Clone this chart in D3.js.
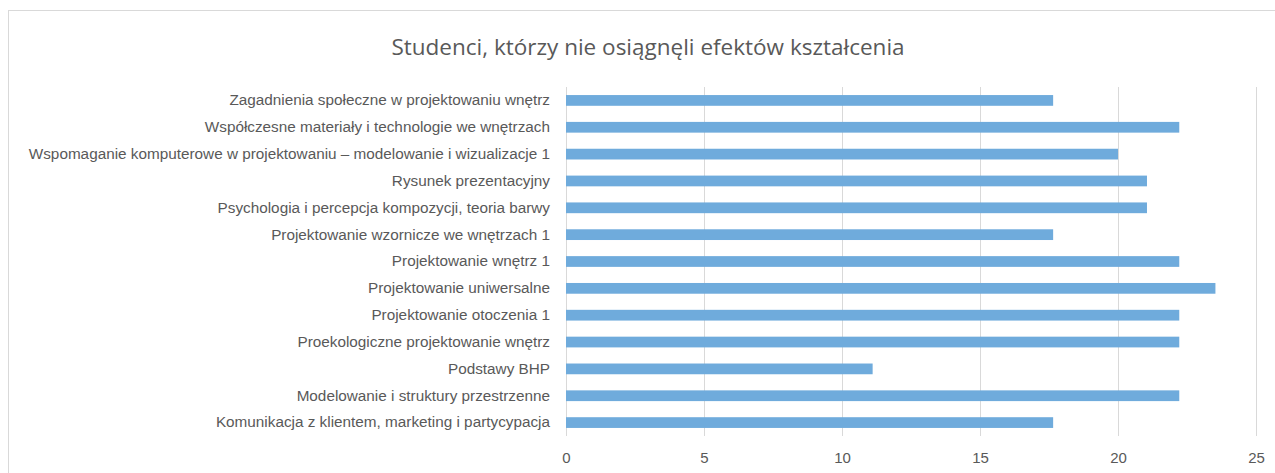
<!DOCTYPE html>
<html>
<head>
<meta charset="UTF-8">
<script src="https://cdn.jsdelivr.net/npm/d3@7"></script>
<style>
    body { margin: 0; background: white; }
    svg { display: block; font-family: "Open Sans", sans-serif; }
</style>
</head>
<body>
<div id="chart"></div>
<script>
    const title = "Studenci, którzy nie osiągnęli efektów kształcenia";

    // top to bottom, as in the picture
    const categories = [
        "Zagadnienia społeczne w projektowaniu wnętrz",
        "Współczesne materiały i technologie we wnętrzach",
        "Wspomaganie komputerowe w projektowaniu – modelowanie i wizualizacje 1",
        "Rysunek prezentacyjny",
        "Psychologia i percepcja kompozycji, teoria barwy",
        "Projektowanie wzornicze we wnętrzach 1",
        "Projektowanie wnętrz 1",
        "Projektowanie uniwersalne",
        "Projektowanie otoczenia 1",
        "Proekologiczne projektowanie wnętrz",
        "Podstawy BHP",
        "Modelowanie i struktury przestrzenne",
        "Komunikacja z klientem, marketing i partycypacja"
    ];
    const values = [17.65, 22.22, 20.00, 21.05, 21.05, 17.65, 22.22, 23.53, 22.22, 22.22, 11.11, 22.22, 17.65];
    const xTicks = [0, 5, 10, 15, 20, 25];

    const w = 1275, h = 473;
    const plotLeft = 566, plotRight = 1256, plotTop = 87, plotBottom = 436;
    const textColor = '#595959';

    const svg = d3.select('#chart').append('svg')
        .attr('width', w)
        .attr('height', h);

    // chart frame
    svg.append('rect')
        .attr('x', 8.5).attr('y', 10.5)
        .attr('width', 1300).attr('height', 500)
        .attr('fill', 'white')
        .attr('stroke', '#d9d9d9');

    svg.append('text')
        .attr('x', 648).attr('y', 55)
        .attr('text-anchor', 'middle')
        .attr('fill', textColor)
        .style('font-size', '22.5px')
        .text(title);

    const x = d3.scaleLinear().domain([0, 25]).range([plotLeft, plotRight]);
    const y = d3.scaleBand().domain(categories).range([plotTop, plotBottom])
        .paddingInner(0.6).paddingOuter(0.3);

    const xAxis = d3.axisBottom(x).tickValues(xTicks)
        .tickSizeInner(-(plotBottom - plotTop)).tickSizeOuter(0).tickPadding(16);
    const gx = svg.append('g')
        .attr('transform', `translate(0, ${plotBottom})`)
        .call(xAxis);
    gx.select('.domain').remove();
    gx.selectAll('line').attr('stroke', '#d9d9d9');
    gx.selectAll('text').attr('fill', textColor).style('font-size', '15px');

    const yAxis = d3.axisLeft(y).tickSize(0).tickPadding(16);
    const gy = svg.append('g')
        .attr('transform', `translate(${plotLeft}, 0)`)
        .call(yAxis);
    gy.select('.domain').remove();
    gy.selectAll('text').attr('fill', textColor).style('font-size', '15.3px');

    svg.append('g').selectAll('rect')
        .data(values)
        .enter()
        .append('rect')
        .attr('x', x(0))
        .attr('y', (d, i) => y(categories[i]))
        .attr('width', d => x(d) - x(0))
        .attr('height', y.bandwidth())
        .attr('fill', '#6fabdc');
</script>
</body>
</html>
